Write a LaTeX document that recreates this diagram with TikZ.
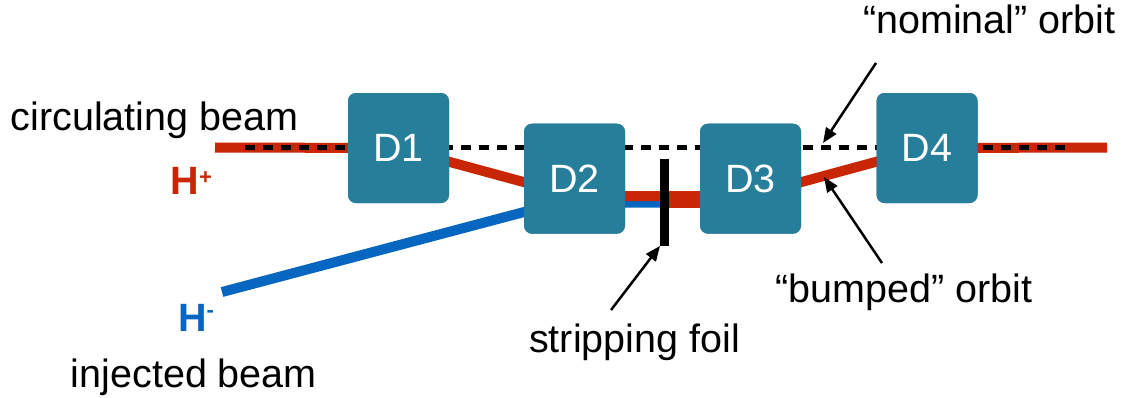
\documentclass[tikz,border=0pt]{standalone}
\usepackage{fontspec}
\setmainfont{Liberation Sans}
\usetikzlibrary{arrows.meta}
\definecolor{magnet}{RGB}{38,126,154}
\definecolor{protonred}{RGB}{200,38,4}
\definecolor{ionblue}{RGB}{6,102,192}
\newcommand{\bigtxt}{\fontsize{39.5}{42}\selectfont}
\newcommand{\charge}[1]{\raisebox{10pt}{\fontsize{22}{22}\selectfont #1}}
\begin{document}
\begin{tikzpicture}[x=1pt,y=-1pt,
  magnetbox/.style={fill=magnet, rounded corners=8pt, minimum width=101pt,
    minimum height=110pt, inner sep=0pt, text=white, font=\bigtxt},
  txt/.style={anchor=base west, inner sep=0pt, font=\bigtxt},
  ion/.style={anchor=base west, inner sep=0pt, font=\bigtxt\bfseries},
  beam/.style={line width=10pt},
  nominal/.style={black, line width=5pt, dash pattern=on 10pt off 8pt},
  pointer/.style={black, line width=2.5pt, -{Triangle[length=15pt,width=12pt]}}]
\useasboundingbox (0,0) rectangle (1124,397);

% dipole magnets and the stripping foil
\node[magnetbox] (D1) at (398.5,148) {};
\node[magnetbox] (D2) at (574.5,178.7) {};
\node[magnetbox] (D3) at (750.5,178.7) {};
\node[magnetbox] (D4) at (927,148) {};
\node[fill=black, minimum width=9pt, minimum height=86.4pt, inner sep=0pt] (foil) at (664.7,202.5) {};

% beam path points
\coordinate (redin) at (215,147.5);
\coordinate (redout) at (1107,147.5);
\coordinate (bumpa) at (575,196);
\coordinate (bumpb) at (750,196);
\coordinate (hin) at (222,292);
\coordinate (hjoin) at (560,202.5);
\coordinate (strip) at (750,202.5);
\coordinate (nomL) at (245,147);
\coordinate (nomR) at (1072,147);

% injected H- beam
\draw[beam, ionblue] (hin) -- (hjoin) -- (foil.center);
% circulating H+ beam on its bumped orbit
\draw[beam, protonred] (redin) -- (D1.center) -- (bumpa) -- (bumpb) -- (D4.center) -- (redout);
% stripped protons after the foil
\draw[beam, protonred] (foil.center) -- (strip);
% nominal orbit
\draw[nominal] (nomL) -- (nomR);

% redraw foil and magnets on top of the beams
\node[fill=black, minimum width=9pt, minimum height=86.4pt, inner sep=0pt] at (foil.center) {};
\foreach \m/\t in {D1/D1,D2/D2,D3/D3,D4/D4}
  \node[magnetbox] at (\m.center) {\t};

% labels
\node[txt] (tcirc) at (10.5,130.5) {circulating beam};
\node[txt] (tnom) at (863,33.3) {“nominal” orbit};
\node[txt] (tstrip) at (529,352.3) {stripping foil};
\node[txt] (tbump) at (775,302.7) {“bumped” orbit};
\node[txt] (tinj) at (70.7,387.3) {injected beam};
\node[ion, text=protonred] (thp) at (170.5,194) {H\charge{+}};
\node[ion, text=ionblue] (thm) at (177.8,331.7) {H\raisebox{4pt}{\charge{-}}};

% pointers
\coordinate (nomtail) at (876,63);
\coordinate (nomtip) at (823,143);
\coordinate (bumptail) at (882,263);
\coordinate (bumptip) at (824,177);
\coordinate (striptail) at (611,310);
\draw[pointer] (nomtail) -- (nomtip);
\draw[pointer] (bumptail) -- (bumptip);
\draw[pointer] (striptail) -- (foil.south west);
\end{tikzpicture}
\end{document}
